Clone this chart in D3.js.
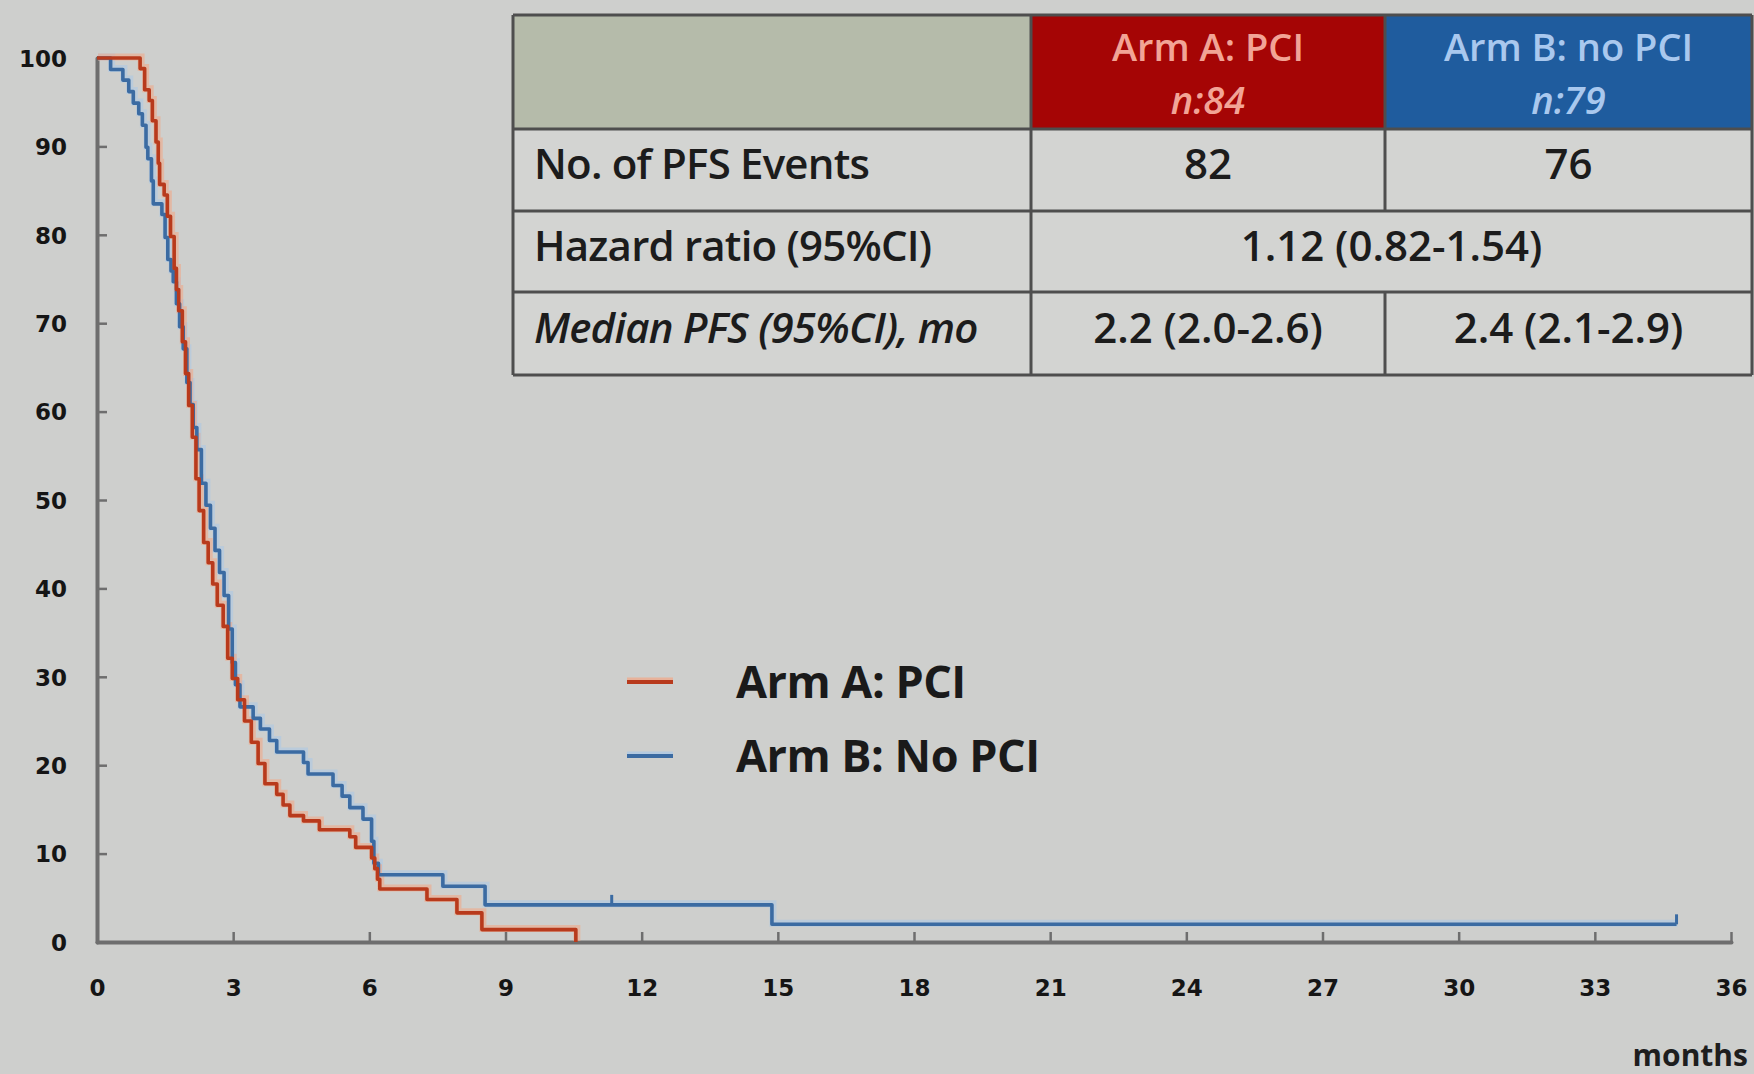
<!DOCTYPE html>
<html>
<head>
<meta charset="utf-8">
<script src="https://cdn.jsdelivr.net/npm/d3@7"></script>
<style>
  html, body { margin: 0; padding: 0; background: #cecfcd; }
  svg { display: block; }
</style>
</head>
<body>
<svg id="chart" width="1754" height="1074"></svg>
<script>
// ---------------- DATA ----------------
const xTicks = [0, 3, 6, 9, 12, 15, 18, 21, 24, 27, 30, 33, 36];
const yTicks = [0, 10, 20, 30, 40, 50, 60, 70, 80, 90, 100];
const xLabel = "months";

// Arm A: PCI  – [months, % progression-free] (value holds from that time on)
const armA = [
  [0, 100], [0.95, 98.8], [1.05, 96.4], [1.15, 95.2], [1.22, 92.9], [1.3, 90.5],
  [1.35, 88.1], [1.38, 85.7], [1.48, 84.5], [1.55, 82.1], [1.62, 79.8], [1.7, 76.2],
  [1.75, 73.8], [1.8, 71.4], [1.88, 67.9], [1.95, 64.3], [2.02, 60.7], [2.1, 57.1],
  [2.18, 52.4], [2.25, 48.8], [2.35, 45.2], [2.45, 42.9], [2.55, 40.5], [2.65, 38.1],
  [2.78, 35.7], [2.88, 32.1], [2.98, 29.8], [3.1, 27.4], [3.25, 25.0], [3.4, 22.6],
  [3.55, 20.2], [3.7, 17.9], [3.96, 16.7], [4.1, 15.5], [4.25, 14.3], [4.55, 13.7],
  [4.9, 12.7], [5.57, 11.9], [5.7, 10.7], [6.05, 9.5], [6.12, 8.3], [6.18, 7.1],
  [6.23, 6.0], [7.27, 4.8], [7.93, 3.3], [8.48, 1.4], [10.55, 0]
];

// Arm B: No PCI
const armB = [
  [0, 100], [0.3, 98.7], [0.57, 97.5], [0.7, 96.2], [0.8, 94.9], [0.92, 93.7],
  [1.0, 92.4], [1.08, 89.9], [1.12, 88.6], [1.2, 86.1], [1.24, 83.5], [1.43, 82.3],
  [1.5, 79.7], [1.56, 77.2], [1.63, 75.9], [1.68, 74.7], [1.75, 72.2], [1.82, 69.6],
  [1.9, 67.1], [1.98, 63.3], [2.05, 60.8], [2.12, 58.2], [2.2, 55.7], [2.3, 51.9],
  [2.4, 49.4], [2.5, 46.8], [2.6, 44.3], [2.7, 41.8], [2.8, 39.2], [2.9, 35.4],
  [2.98, 31.6], [3.05, 29.1], [3.15, 26.6], [3.44, 25.3], [3.6, 24.1], [3.8, 22.8],
  [3.96, 21.5], [4.55, 20.3], [4.65, 19.0], [5.2, 17.7], [5.4, 16.5], [5.57, 15.2],
  [5.86, 13.9], [6.05, 11.4], [6.1, 8.9], [6.2, 7.6], [7.62, 6.3], [8.55, 4.2],
  [14.87, 2.0], [34.8, 2.0]
];
const censorB = [[11.34, 4.2], [34.8, 2.0]];

const seriesNames = ["Arm A: PCI", "Arm B: No PCI"];

const tableHeader = ["", "Arm A: PCI", "Arm B: no PCI"];
const tableHeaderN = ["", "n:84", "n:79"];
const rowLabels = ["No. of PFS Events", "Hazard ratio (95%CI)", "Median PFS (95%CI), mo"];
const rowArmA = ["82", null, "2.2 (2.0-2.6)"];
const rowArmB = ["76", null, "2.4 (2.1-2.9)"];
const rowBoth = [null, "1.12 (0.82-1.54)", null];

// ---------------- LAYOUT ----------------
const svg = d3.select("#chart");
const W = 1754, H = 1074;
const x = d3.scaleLinear().domain([0, 36]).range([97, 1731]);
const y = d3.scaleLinear().domain([0, 100]).range([942, 58]);

const redMain = "#b83a1c", redHalo = "#f3a584";
const blueMain = "#3b6ba2", blueHalo = "#aac8e8";

svg.append("rect").attr("width", W).attr("height", H).attr("fill", "#cecfcd");

// Axes
const axisColor = "#6e6e6e";
const yAxis = svg.append("g").attr("transform", `translate(${x(0)},0)`)
  .call(d3.axisLeft(y).tickValues(yTicks).tickSize(-10).tickSizeOuter(0).tickPadding(30));
const xAxis = svg.append("g").attr("transform", `translate(0,${y(0)})`)
  .call(d3.axisBottom(x).tickValues(xTicks).tickSize(-10).tickSizeOuter(0).tickPadding(38));

[yAxis, xAxis].forEach(g => {
  g.select(".domain").attr("stroke", axisColor).attr("stroke-width", 4).attr("stroke-linecap", "round");
  g.selectAll(".tick line").attr("stroke", axisColor).attr("stroke-width", 2.5);
  g.selectAll(".tick text")
    .attr("fill", "#151515")
    .style("font-family", "'DejaVu Sans', sans-serif")
    .style("font-weight", "bold")
    .style("font-size", "23px");
});
yAxis.selectAll(".tick text").attr("dy", "0.36em");
yAxis.selectAll(".tick").filter(d => d === 0 || d === 100).select("line").remove();
xAxis.selectAll(".tick").filter(d => d === 0).select("line").remove();

svg.append("text")
  .attr("x", 1748).attr("y", 1066)
  .attr("text-anchor", "end")
  .attr("fill", "#1e1e1e")
  .style("font-family", "'Open Sans', sans-serif")
  .style("font-weight", 700)
  .style("font-size", "30px")
  .text(xLabel);

// Curves
const line = d3.line().x(d => x(d[0])).y(d => y(d[1])).curve(d3.curveStepAfter);
const curves = [
  { data: armB, main: blueMain, halo: blueHalo },
  { data: armA, main: redMain, halo: redHalo }
];
curves.forEach(c => {
  svg.append("path").attr("d", line(c.data)).attr("fill", "none")
    .attr("stroke", c.halo).attr("stroke-width", 7).attr("stroke-opacity", 0.55)
    .attr("transform", "translate(1,-1)");
});
curves.forEach(c => {
  svg.append("path").attr("d", line(c.data)).attr("fill", "none")
    .attr("stroke", c.main).attr("stroke-width", 3.6).attr("stroke-linejoin", "round");
});
svg.selectAll(".censor").data(censorB).enter().append("line")
  .attr("x1", d => x(d[0])).attr("x2", d => x(d[0]))
  .attr("y1", d => y(d[1])).attr("y2", d => y(d[1]) - 10)
  .attr("stroke", blueMain).attr("stroke-width", 3);

// Legend
const legend = svg.append("g");
seriesNames.forEach((name, i) => {
  const ly = 682 + i * 74;
  const col = i === 0 ? redMain : blueMain;
  const halo = i === 0 ? redHalo : blueHalo;
  legend.append("line").attr("x1", 627).attr("x2", 673).attr("y1", ly - 2).attr("y2", ly - 2)
    .attr("stroke", halo).attr("stroke-width", 5).attr("stroke-opacity", 0.7);
  legend.append("line").attr("x1", 627).attr("x2", 673).attr("y1", ly).attr("y2", ly)
    .attr("stroke", col).attr("stroke-width", 4);
  legend.append("text").attr("x", 736).attr("y", ly).attr("dy", "0.36em")
    .attr("fill", "#1a1a1a")
    .style("font-family", "'Open Sans', sans-serif")
    .style("font-weight", 700)
    .style("font-size", "45px")
    .style("letter-spacing", "-0.5px")
    .text(name);
});

// Table
const colX = [513, 1031, 1385, 1752];
const rowY = [15, 129, 211, 292, 375];
const tbl = svg.append("g");
const headFill = ["#b5bbaa", "#a50505", "#1f5c9e"];
const headText = ["#000", "#f2a496", "#a9c8ee"];
const font = "'Open Sans', sans-serif";

// cell backgrounds
for (let r = 0; r < 4; r++) {
  for (let c = 0; c < 3; c++) {
    tbl.append("rect")
      .attr("x", colX[c]).attr("y", rowY[r])
      .attr("width", colX[c + 1] - colX[c]).attr("height", rowY[r + 1] - rowY[r])
      .attr("fill", r === 0 ? headFill[c] : "#d3d4d2");
  }
}
// header text
for (let c = 1; c < 3; c++) {
  const cx = (colX[c] + colX[c + 1]) / 2;
  tbl.append("text").attr("x", cx).attr("y", 47).attr("dy", "0.36em")
    .attr("text-anchor", "middle").attr("fill", headText[c])
    .style("font-family", font).style("font-weight", 600).style("font-size", "38px")
    .text(tableHeader[c]);
  tbl.append("text").attr("x", cx).attr("y", 100).attr("dy", "0.36em")
    .attr("text-anchor", "middle").attr("fill", headText[c])
    .style("font-family", font).style("font-weight", 600).style("font-size", "38px")
    .style("font-style", "italic")
    .text(tableHeaderN[c]);
}
// body
const bodyStyle = sel => sel.attr("fill", "#1c1c1c")
  .style("font-family", font).style("font-weight", 600).style("font-size", "42px");
rowLabels.forEach((lab, i) => {
  const cy = (rowY[i + 1] + rowY[i + 2]) / 2 - 6;
  bodyStyle(tbl.append("text").attr("x", 534).attr("y", cy).attr("dy", "0.36em")
    .style("font-style", i === 2 ? "italic" : "normal")
    .style("letter-spacing", "-0.8px")
    .text(lab));
  if (rowArmA[i] !== null) {
    bodyStyle(tbl.append("text").attr("x", (colX[1] + colX[2]) / 2).attr("y", cy).attr("dy", "0.36em")
      .attr("text-anchor", "middle").text(rowArmA[i]));
  }
  if (rowArmB[i] !== null) {
    bodyStyle(tbl.append("text").attr("x", (colX[2] + colX[3]) / 2).attr("y", cy).attr("dy", "0.36em")
      .attr("text-anchor", "middle").text(rowArmB[i]));
  }
  if (rowBoth[i] !== null) {
    bodyStyle(tbl.append("text").attr("x", (colX[1] + colX[3]) / 2).attr("y", cy).attr("dy", "0.36em")
      .attr("text-anchor", "middle").text(rowBoth[i]));
  }
});
// grid lines
const lineCol = "#4e4e4e";
rowY.forEach(ry => tbl.append("line").attr("x1", colX[0]).attr("x2", colX[3])
  .attr("y1", ry).attr("y2", ry).attr("stroke", lineCol).attr("stroke-width", 3));
tbl.append("line").attr("x1", colX[0]).attr("x2", colX[0]).attr("y1", rowY[0]).attr("y2", rowY[4])
  .attr("stroke", lineCol).attr("stroke-width", 3);
tbl.append("line").attr("x1", colX[3]).attr("x2", colX[3]).attr("y1", rowY[0]).attr("y2", rowY[4])
  .attr("stroke", lineCol).attr("stroke-width", 3);
tbl.append("line").attr("x1", colX[1]).attr("x2", colX[1]).attr("y1", rowY[0]).attr("y2", rowY[4])
  .attr("stroke", lineCol).attr("stroke-width", 3);
// column 2|3 divider skips the merged hazard-ratio row
[[rowY[0], rowY[2]], [rowY[3], rowY[4]]].forEach(([a, b]) =>
  tbl.append("line").attr("x1", colX[2]).attr("x2", colX[2]).attr("y1", a).attr("y2", b)
    .attr("stroke", lineCol).attr("stroke-width", 3));
</script>
</body>
</html>
